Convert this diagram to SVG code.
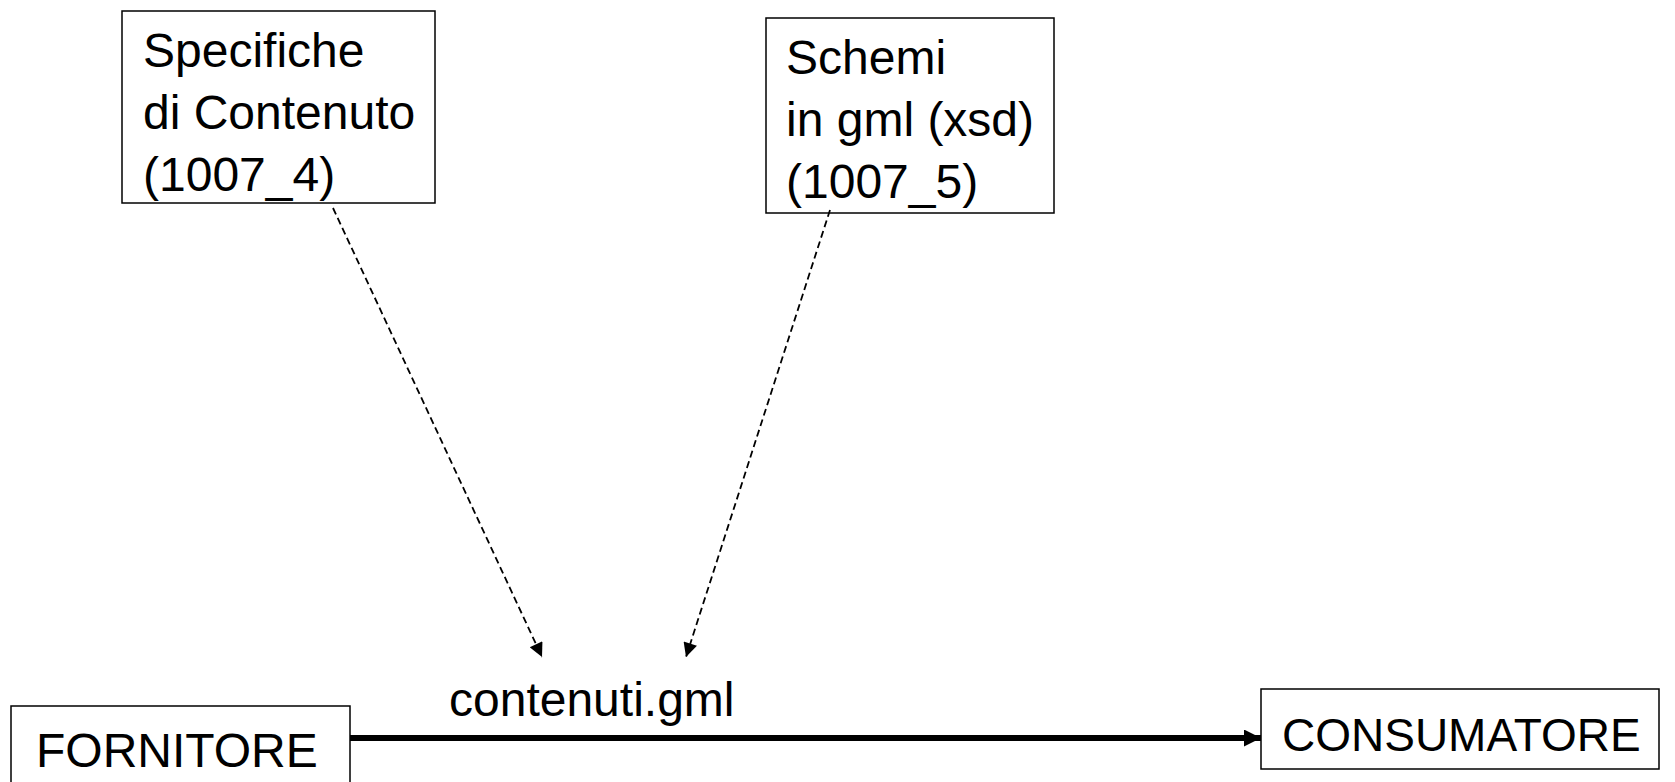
<svg xmlns="http://www.w3.org/2000/svg" width="1675" height="782" viewBox="0 0 1675 782">
<style>
  .box { fill: #ffffff; stroke: #000000; stroke-width: 1.5; }
  .lbl { font-family: "Liberation Sans", Arial, sans-serif; font-size: 48px; fill: #000000; }
  .dash { stroke: #000000; stroke-width: 1.8; stroke-dasharray: 7 4; fill: none; }
  .main { stroke: #000000; stroke-width: 6; fill: none; }
</style>
<defs>
  <marker id="ah" viewBox="0 0 10 10" refX="10" refY="5" markerUnits="userSpaceOnUse" markerWidth="16" markerHeight="14" orient="auto">
    <path d="M0,0 L10,5 L0,10 Z" fill="#000000"/>
  </marker>
  <marker id="ahm" viewBox="0 0 10 10" refX="10" refY="5" markerUnits="userSpaceOnUse" markerWidth="19" markerHeight="17" orient="auto">
    <path d="M0,0 L10,5 L0,10 Z" fill="#000000"/>
  </marker>
</defs>
<rect width="1675" height="782" fill="#ffffff"/>
<g id="node-specifiche">
  <rect class="box" x="122" y="11" width="313" height="192"/>
  <text class="lbl" x="143" y="67">Specifiche</text>
  <text class="lbl" x="143" y="129">di Contenuto</text>
  <text class="lbl" x="143" y="191">(1007_4)</text>
</g>
<g id="node-schemi">
  <rect class="box" x="766" y="18" width="288" height="195"/>
  <text class="lbl" x="786" y="74">Schemi</text>
  <text class="lbl" x="786" y="136">in gml (xsd)</text>
  <text class="lbl" x="786" y="198">(1007_5)</text>
</g>
<g id="node-fornitore">
  <rect class="box" x="11" y="706" width="339" height="90"/>
  <text class="lbl" x="36" y="767">FORNITORE</text>
</g>
<g id="node-consumatore">
  <rect class="box" x="1261" y="689" width="398" height="80"/>
  <text class="lbl" x="1282" y="751" style="font-size:46px">CONSUMATORE</text>
</g>
<g id="connectors">
  <line class="dash" x1="333" y1="208" x2="542" y2="657" marker-end="url(#ah)"/>
  <line class="dash" x1="830" y1="210" x2="686" y2="657" marker-end="url(#ah)"/>
  <line class="main" x1="350" y1="738" x2="1261" y2="738" marker-end="url(#ahm)"/>
  <text class="lbl" x="449" y="716">contenuti.gml</text>
</g>
</svg>
